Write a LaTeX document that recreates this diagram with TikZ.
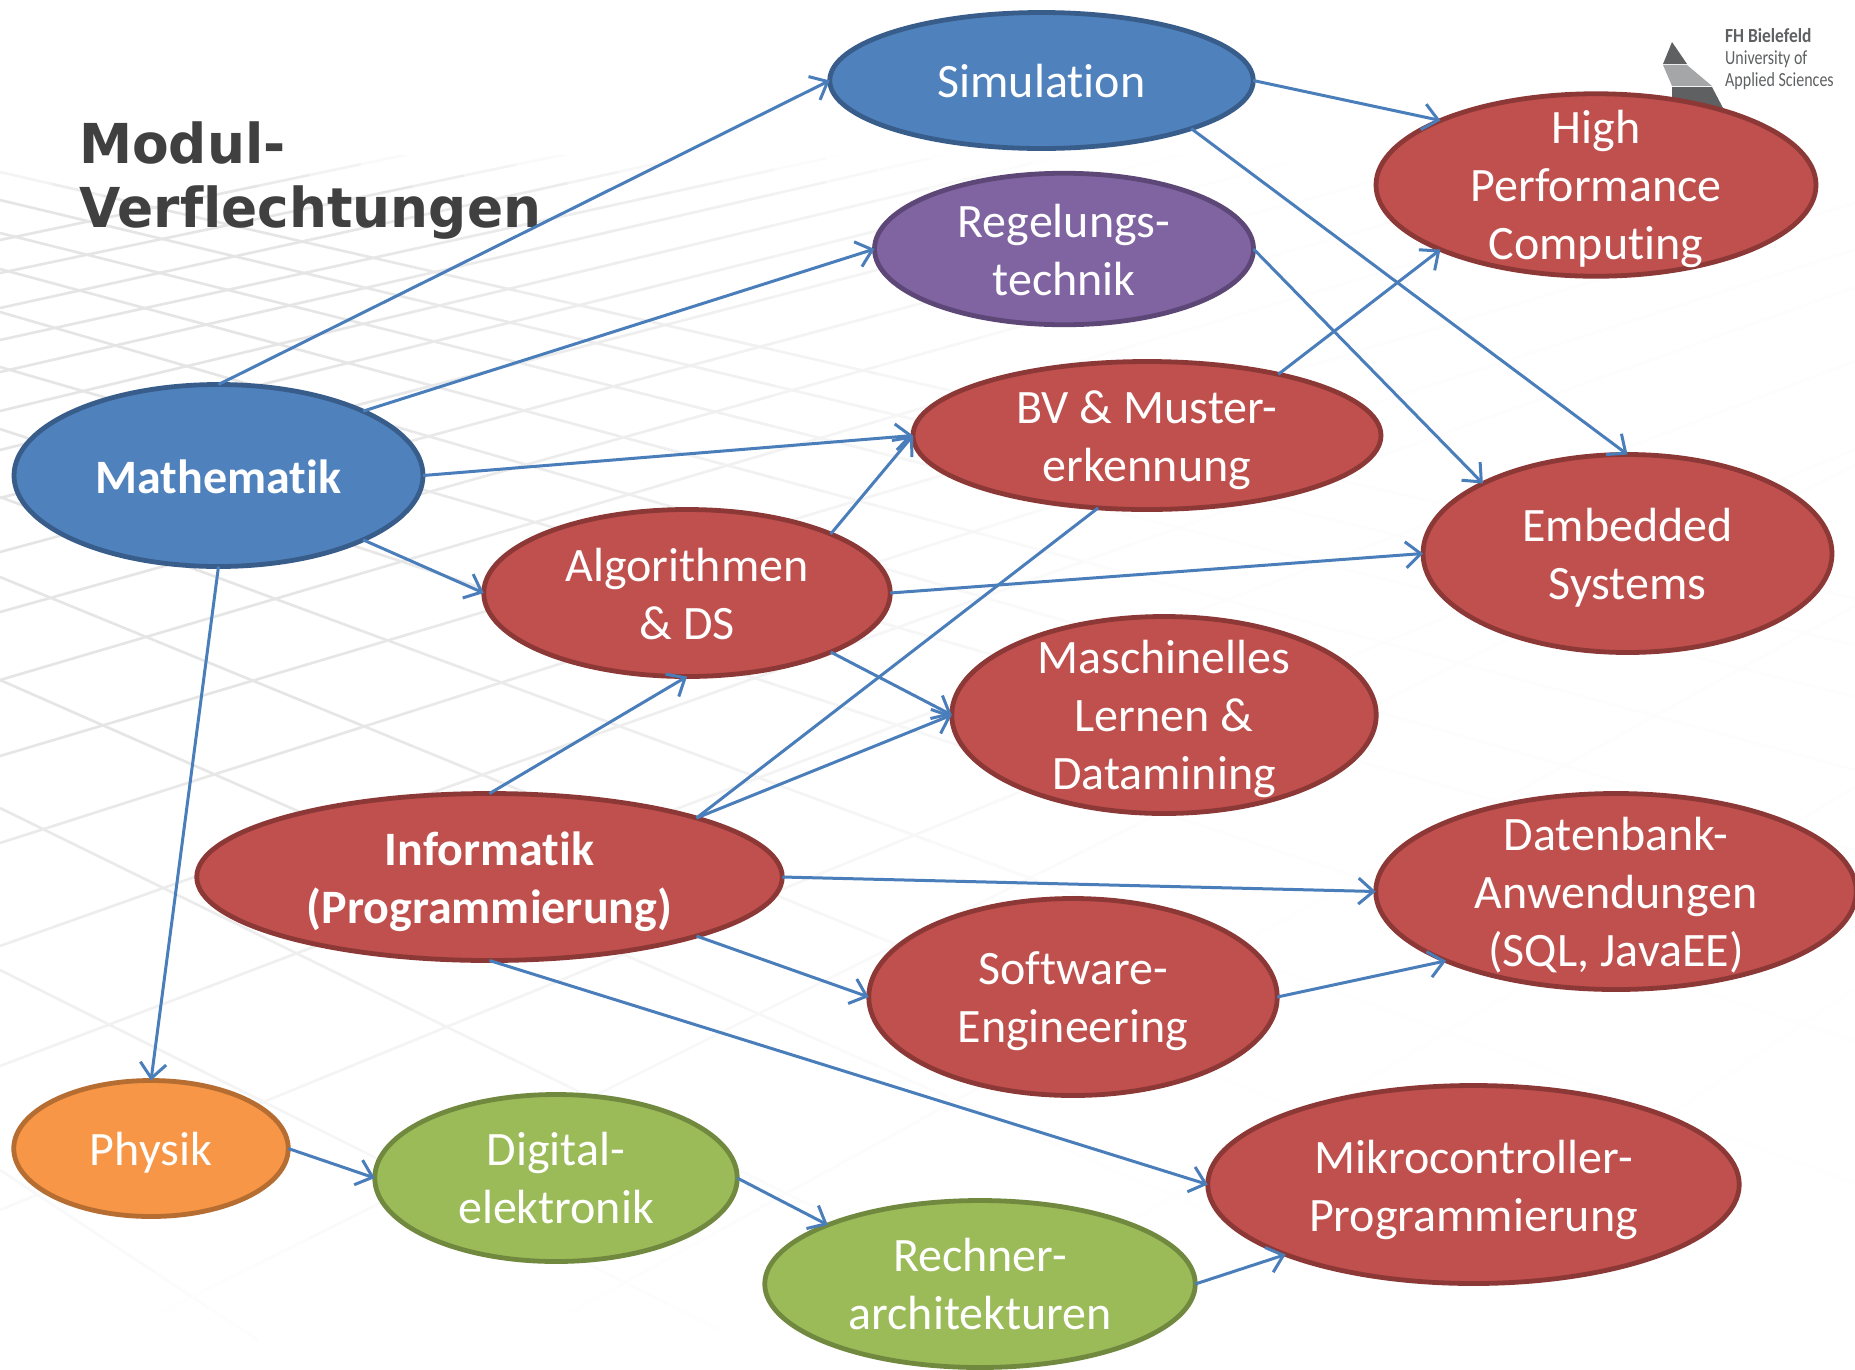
\documentclass[tikz,border=0pt]{standalone}
\usepackage{fontspec}
\setmainfont[Ligatures=NoCommon]{Carlito}
\newfontfamily\titlefont[FakeStretch=0.97,Ligatures=NoCommon]{DejaVu Sans}
\newfontfamily\logofont[UprightFeatures={FakeStretch=0.8},BoldFeatures={FakeStretch=0.87},Ligatures=NoCommon]{Carlito}
\usetikzlibrary{shapes.geometric,arrows.meta}
\definecolor{cblue}{HTML}{4F81BD}\definecolor{cblueb}{HTML}{385D8A}
\definecolor{cred}{HTML}{C0504D}\definecolor{credb}{HTML}{8C3836}
\definecolor{cpurple}{HTML}{8064A2}\definecolor{cpurpleb}{HTML}{5C4776}
\definecolor{cgreen}{HTML}{9BBB59}\definecolor{cgreenb}{HTML}{71893F}
\definecolor{corange}{HTML}{F79646}\definecolor{corangeb}{HTML}{B66D31}
\definecolor{conn}{HTML}{4A7EBB}
\definecolor{titlegray}{HTML}{404040}
\definecolor{logodark}{HTML}{5F6062}\definecolor{logolight}{HTML}{A5A6A8}
\tikzset{
  ell/.style={ellipse,draw,line width=4.8pt,inner sep=0pt,outer sep=0pt},
  blueell/.style={ell,fill=cblue,draw=cblueb},
  redell/.style={ell,fill=cred,draw=credb},
  purpleell/.style={ell,fill=cpurple,draw=cpurpleb},
  greenell/.style={ell,fill=cgreen,draw=cgreenb},
  orangeell/.style={ell,fill=corange,draw=corangeb},
  sz/.style 2 args={minimum width=#1pt+3pt,minimum height=#2pt+3.5pt},
  lab/.style={text=white,align=center,inner sep=0pt,font=\fontsize{48}{58}\selectfont},
  labb/.style={lab,font=\fontsize{48}{58}\selectfont\bfseries},
  con/.style={draw=conn,line width=3pt,-{Straight Barb[length=15pt,width=26pt,line width=3pt]}},
  logotxt/.style={anchor=base west,inner sep=0pt,text=logodark},
  titletxt/.style={anchor=base west,inner sep=0pt,text=titlegray,font=\titlefont\bfseries\fontsize{55}{64}\selectfont}
}
\newcommand{\gridseg}[4]{% x1,y1,x2,y2
  \pgfmathsetmacro\gridg{1-0.1*(1-min(max(#1-300,0)/900,0.93))*min(max((#2-155)/40,0.1),1)*min(max((1345-#2)/600,0),1)}%
  \definecolor{gridc}{gray}{\gridg}%
  \draw[gridc,line width=2.6pt] (#1,#2) -- (#3,#4);}
\begin{document}
\begin{tikzpicture}[x=1pt,y=-1pt]
\useasboundingbox (0,0) rectangle (1855,1369);
\fill[white] (0,0) rectangle (1855,1369);
% background grid
\begin{scope}
\clip (0,155) rectangle (1855,1345);
\foreach \yz/\m in {172/.23,200/.24,233/.25,269/.27,312/.29,367/.29,429/.33,497/.37,577/.41,680/.44,808/.49,970/.5,1170/.66,1420/.8}{
  \foreach \i in {0,...,36}{
    \pgfmathsetmacro\xa{\i*51.6}\pgfmathsetmacro\xb{(\i+1)*51.6}
    \pgfmathsetmacro\ya{\yz+\m*\xa}\pgfmathsetmacro\yb{\yz+\m*\xb}
    \pgfmathparse{(\ya>1400 || \yb<150)?0:1}
    \ifnum\pgfmathresult>0 \gridseg{\xa}{\ya}{\xb}{\yb}\fi
  }}
\foreach \yz/\m in {240/.21,273/.21,308/.22,340/.22,372/.23,411/.24,450/.25,498/.26,552/.27,612/.28,680/.295,756/.298,843/.32,946/.355,1066/.38,1210/.41,1393/.5,1626/.55,1900/.6,2250/.68}{
  \foreach \i in {0,...,36}{
    \pgfmathsetmacro\xa{\i*51.6}\pgfmathsetmacro\xb{(\i+1)*51.6}
    \pgfmathsetmacro\ya{\yz-\m*\xa}\pgfmathsetmacro\yb{\yz-\m*\xb}
    \pgfmathparse{(\ya<150 || \yb>1400)?0:1}
    \ifnum\pgfmathresult>0 \gridseg{\xa}{\ya}{\xb}{\yb}\fi
  }}
\end{scope}
% logo
\fill[logodark] (1672,42) -- (1663,64) -- (1687,64) -- cycle;
\fill[logolight] (1663,65) -- (1687,65) -- (1712,86) -- (1672,86) -- cycle;
\fill[logodark] (1672,87) -- (1712,87) -- (1723,108) -- (1672,108) -- cycle;
\node[logotxt,font=\logofont\bfseries\fontsize{20}{24}\selectfont] (logoa) at (1725,42) {FH Bielefeld};
\node[logotxt,font=\logofont\fontsize{20}{24}\selectfont] (logob) at (1725,64) {University of};
\node[logotxt,font=\logofont\fontsize{20}{24}\selectfont] (logoc) at (1725,86) {Applied Sciences};
% title
\node[titletxt] (titlea) at (79,163) {Modul-};
\node[titletxt] (titleb) at (79,227) {Verflechtungen};
% ellipses
\node[blueell,sz={420.5}{132.5},label={[lab,yshift=-1pt]center:Simulation}] (sim) at (1041.5,80.5) {};
\node[purpleell,sz={376}{148},label={[lab,yshift=-1pt]center:{Regelungs-\\technik}}] (reg) at (1064,249) {};
\node[redell,sz={437}{179},label={[lab,yshift=-3.5pt]center:{High\\Performance\\Computing}}] (hpc) at (1596,185) {};
\node[blueell,sz={406}{178.5},label={[labb,yshift=-1pt]center:Mathematik}] (math) at (218.5,475.5) {};
\node[redell,sz={465}{144.5},label={[lab,yshift=-4.5pt]center:{BV \& Muster-\\erkennung}}] (bv) at (1147,435.5) {};
\node[redell,sz={406}{194.5},label={[lab,yshift=-4.5pt]center:{Embedded\\Systems}}] (emb) at (1627.5,553.5) {};
\node[redell,sz={403.5}{163.5},label={[lab,yshift=-1pt]center:{Algorithmen\\\& DS}}] (algo) at (687,593) {};
\node[redell,sz={421.5}{193.5},label={[lab,yshift=-4pt]center:{Maschinelles\\Lernen \&\\Datamining}}] (ml) at (1164,715) {};
\node[redell,sz={582.5}{163.5},label={[labb,yshift=-4.5pt]center:{Informatik\\(Programmierung)}}] (inf) at (489.5,877) {};
\node[redell,sz={477.5}{192.5},label={[lab,yshift=-4pt]center:{Datenbank-\\Anwendungen\\(SQL, JavaEE)}}] (dat) at (1616,891.5) {};
\node[redell,sz={405.5}{193.5},label={[lab,yshift=-4pt]center:{Software-\\Engineering}}] (soft) at (1073,997) {};
\node[orangeell,sz={271.5}{132.5},label={[lab,yshift=-4.5pt]center:Physik}] (phy) at (151,1148.5) {};
\node[greenell,sz={359.5}{163.5},label={[lab,yshift=0pt]center:{Digital-\\elektronik}}] (dig) at (556,1178) {};
\node[greenell,sz={427.5}{163.5},label={[lab,yshift=0pt]center:{Rechner-\\architekturen}}] (rech) at (980,1284) {};
\node[redell,sz={528.5}{194.5},label={[lab,yshift=-5pt]center:{Mikrocontroller-\\Programmierung}}] (mik) at (1473.5,1184.5) {};
% connectors
\draw[con] (math.north) -- (sim.west);
\draw[con] (math.north east) -- (reg.west);
\draw[con] (math.east) -- (bv.west);
\draw[con] (math.south east) -- (algo.west);
\draw[con] (math.south) -- (phy.north);
\draw[con] (sim.east) -- (hpc.north west);
\draw[con] (sim.south east) -- (emb.north);
\draw[con] (reg.east) -- (emb.north west);
\draw[con] (bv.25.7) -- (hpc.south west);
\draw[con] (algo.north east) -- (bv.west);
\draw[con] (algo.east) -- (emb.west);
\draw[con] (algo.south east) -- (ml.west);
\draw[con] (inf.north) -- (algo.south);
\draw[con] (inf.north east) -- (ml.west);
\draw[con,-] (inf.north east) -- (bv.236.3);
\draw[con] (inf.east) -- (dat.west);
\draw[con] (inf.south east) -- (soft.west);
\draw[con] (inf.south) -- (mik.west);
\draw[con] (soft.east) -- (dat.south west);
\draw[con] (phy.east) -- (dig.west);
\draw[con] (dig.east) -- (rech.north west);
\draw[con] (rech.east) -- (mik.south west);
\end{tikzpicture}
\end{document}
